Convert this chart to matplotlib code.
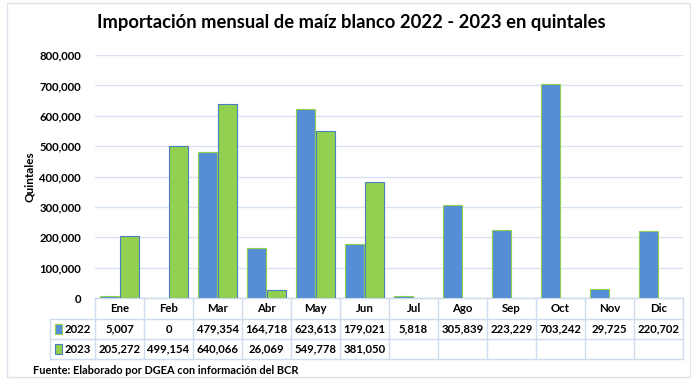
import numpy as np
import matplotlib.pyplot as plt
from matplotlib.transforms import blended_transform_factory
from matplotlib.patches import Rectangle

plt.rcParams['font.family'] = ['Lato', 'DejaVu Sans']

# monthly imports of white maize, quintales
months = ['Ene', 'Feb', 'Mar', 'Abr', 'May', 'Jun',
          'Jul', 'Ago', 'Sep', 'Oct', 'Nov', 'Dic']
imports_2022 = [5007, 0, 479354, 164718, 623613, 179021,
                5818, 305839, 223229, 703242, 29725, 220702]
imports_2023 = [205272, 499154, 640066, 26069, 549778, 381050]
series_names = ['2022', '2023']

blue = '#558ED5'
green = '#92D050'
grid_color = '#D9E2F0'
line_color = '#D0DCEE'

fig = plt.figure(figsize=(6.91, 3.79), dpi=100)
ax = fig.add_axes([0.1375, 0.2137, 0.851, 0.6412])

x = np.arange(len(months)) + 0.5
width = 0.39
off = 0.21
ax.bar(x - off, imports_2022, width, color=blue, edgecolor=green,
       linewidth=0.8, zorder=3)
ax.bar(x[:len(imports_2023)] + off, imports_2023, width, color=green,
       edgecolor='#4A7EC0', linewidth=0.8, zorder=3)

ax.set_xlim(0, len(months))
ax.set_ylim(0, 800000)
ax.set_yticks(np.arange(0, 800001, 100000))
ax.set_yticklabels([f'{v:,}' for v in range(0, 800001, 100000)],
                   fontsize=8.2, fontweight='bold')
ax.tick_params(axis='y', length=0, pad=10)
ax.set_xticks([])
ax.grid(axis='y', color=grid_color, linewidth=1, zorder=0)
for s in ['top', 'right', 'left']:
    ax.spines[s].set_visible(False)
ax.spines['bottom'].set_color(line_color)
ax.set_ylabel('Quintales', fontsize=8.5, fontweight='bold', labelpad=3)

fig.text(0.509, 0.94, 'Importación mensual de maíz blanco 2022 - 2023 en quintales',
         ha='center', va='center', fontsize=13.2, fontweight='bold')

# data table under the chart
tr = blended_transform_factory(ax.transData, fig.transFigure)
row_y = [0.2137, 0.1583, 0.1055, 0.0528]
lab_x = -0.92
kw = dict(transform=tr, clip_on=False, color=line_color, linewidth=1)
ax.plot([0, 12], [row_y[0]] * 2, **kw)
for y in row_y[1:]:
    ax.plot([lab_x, 12], [y, y], **kw)
ax.plot([lab_x, lab_x], [row_y[1], row_y[3]], **kw)
for i in range(len(months) + 1):
    ax.plot([i, i], [row_y[0], row_y[3]], **kw)

mid = [(row_y[i] + row_y[i + 1]) / 2 for i in range(3)]
tk = dict(transform=tr, ha='center', va='center', fontsize=8.2,
          fontweight='bold', clip_on=False)
for i, m in enumerate(months):
    ax.text(x[i], mid[0], m, **tk)
    ax.text(x[i], mid[1], f'{imports_2022[i]:,}', **tk)
    if i < len(imports_2023):
        ax.text(x[i], mid[2], f'{imports_2023[i]:,}', **tk)

# legend keys in the row headers
key_colors = [(blue, green), (green, '#4A7EC0')]
for r, (name, (fc, ec)) in enumerate(zip(series_names, key_colors)):
    ym = mid[r + 1]
    fig.patches.append(Rectangle((55 / 691, ym - 0.012), 7 / 691, 0.024,
                                 transform=fig.transFigure, facecolor=fc,
                                 edgecolor=ec, linewidth=0.8))
    fig.text(65 / 691, ym, name, ha='left', va='center', fontsize=8.2,
             fontweight='bold')

fig.text(33 / 691, 1 - 370 / 379,
         'Fuente: Elaborado por DGEA con información del BCR',
         ha='left', va='center', fontsize=7.9, fontweight='bold')

# outer chart frame
fig.patches.append(Rectangle((7 / 691, 1 - 377 / 379), 683 / 691, 374 / 379,
                             transform=fig.transFigure, facecolor='none',
                             edgecolor='#DCE3EC', linewidth=1))

fig.savefig('out.png', dpi=100)
